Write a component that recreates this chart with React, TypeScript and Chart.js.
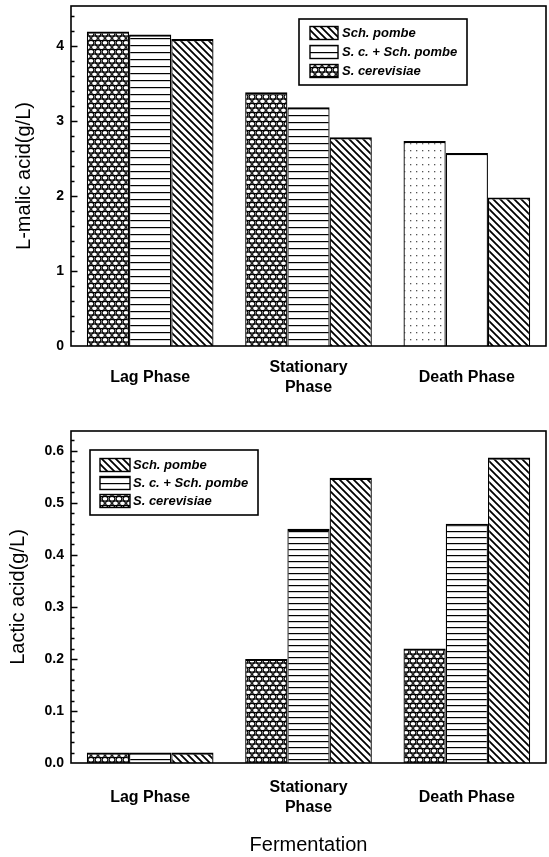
import React, { useEffect, useRef } from 'react';
import { Chart, registerables } from 'chart.js';

Chart.register(...registerables);

// ---------- data ----------
const categories: (string | string[])[] = ['Lag Phase', ['Stationary', 'Phase'], 'Death Phase'];
const seriesNames = ['S. cerevisiae', 'S. c. + Sch. pombe', 'Sch. pombe'];

const malicCerevisiae = [4.19, 3.38, 2.73];
const malicMixed = [4.15, 3.18, 2.57];
const malicPombe = [4.09, 2.78, 1.98];

const lacticCerevisiae = [0.02, 0.2, 0.22];
const lacticMixed = [0.02, 0.45, 0.46];
const lacticPombe = [0.02, 0.548, 0.587];

const malicMax = 4.53;
const malicStep = 1;
const malicMinorStep = 0.2;
const lacticMax = 0.638;
const lacticStep = 0.1;
const lacticMinorStep = 0.02;

const FONT = '"Liberation Sans", Arial, Helvetica, sans-serif';

// ---------- patterns ----------
function tile(ctx: CanvasRenderingContext2D, w: number, h: number, draw: (g: CanvasRenderingContext2D) => void) {
  const c = document.createElement('canvas');
  c.width = w;
  c.height = h;
  const g = c.getContext('2d')!;
  g.fillStyle = '#fff';
  g.fillRect(0, 0, w, h);
  g.strokeStyle = '#000';
  g.fillStyle = '#000';
  draw(g);
  return ctx.createPattern(c, 'repeat')!;
}

function makePatterns(ctx: CanvasRenderingContext2D, lineGap: number) {
  const circles = tile(ctx, 7, 9, (g) => {
    g.lineWidth = 1.1;
    const pts = [[3.5, 2.25], [0, 6.75], [7, 6.75], [3.5, 11.25], [0, -2.25], [7, -2.25]];
    pts.forEach(([x, y]) => {
      g.beginPath();
      g.ellipse(x, y, 2.9, 2.4, 0, 0, Math.PI * 2);
      g.stroke();
    });
  });
  const hlines = tile(ctx, 4, lineGap, (g) => {
    g.fillRect(0, Math.floor(lineGap / 2), 4, 1.2);
  });
  const diag = tile(ctx, 7, 7, (g) => {
    g.lineWidth = 1.8;
    g.beginPath();
    g.moveTo(-1, -1); g.lineTo(8, 8);
    g.moveTo(-1, 6); g.lineTo(1, 8);
    g.moveTo(6, -1); g.lineTo(8, 1);
    g.stroke();
  });
  const sparse = tile(ctx, 6, 7, (g) => {
    g.fillStyle = '#555';
    g.fillRect(2, 3, 1.3, 1.3);
  });
  return { circles, hlines, diag, sparse };
}

// ---------- plugins ----------
const framePlugin = {
  id: 'frameTicks',
  afterDatasetsDraw(chart: any, _args: any, opts: any) {
    const { ctx, chartArea } = chart;
    const y = chart.scales.y;
    ctx.save();
    ctx.strokeStyle = '#000';
    ctx.lineWidth = 1.6;
    ctx.strokeRect(chartArea.left, chartArea.top, chartArea.right - chartArea.left, chartArea.bottom - chartArea.top);
    ctx.lineWidth = 1.3;
    ctx.beginPath();
    const minor = opts.minorStep;
    const n = Math.floor((y.max - y.min) / minor + 1e-6);
    for (let i = 1; i <= n; i++) {
      const v = y.min + i * minor;
      const p = Math.round(y.getPixelForValue(v)) + 0.5;
      const isMajor = Math.abs(v / opts.majorStep - Math.round(v / opts.majorStep)) < 1e-6;
      const len = isMajor ? 6.5 : 3.5;
      ctx.moveTo(chartArea.left, p);
      ctx.lineTo(chartArea.left + len, p);
    }
    ctx.stroke();
    ctx.restore();
  },
};

const boxLegendPlugin = {
  id: 'boxLegend',
  afterDraw(chart: any, _args: any, o: any) {
    const { ctx } = chart;
    ctx.save();
    ctx.fillStyle = '#fff';
    ctx.fillRect(o.x, o.y, o.w, o.h);
    ctx.strokeStyle = '#000';
    ctx.lineWidth = 1.6;
    ctx.strokeRect(o.x, o.y, o.w, o.h);
    const ds = chart.data.datasets.slice().reverse();
    ds.forEach((d: any, i: number) => {
      const cy = o.y + o.firstRow + i * o.rowH;
      const bg = Array.isArray(d.backgroundColor) ? d.backgroundColor[0] : d.backgroundColor;
      ctx.fillStyle = bg;
      ctx.fillRect(o.swatchX, cy - o.swatchH / 2, o.swatchW, o.swatchH);
      ctx.lineWidth = 1.4;
      ctx.strokeRect(o.swatchX, cy - o.swatchH / 2, o.swatchW, o.swatchH);
      ctx.fillStyle = '#000';
      ctx.font = `italic bold 13px ${FONT}`;
      ctx.textBaseline = 'middle';
      ctx.textAlign = 'left';
      ctx.fillText(d.label, o.textX, cy);
    });
    ctx.restore();
  },
};

// ---------- chart builder ----------
function buildChart(canvas: HTMLCanvasElement, cfg: any) {
  const ctx = canvas.getContext('2d')!;
  const p = makePatterns(ctx, cfg.lineGap);
  const bgs = cfg.bgs(p);
  const values = cfg.values;
  const datasets = seriesNames.map((name, i) => ({
    label: name,
    data: values[i],
    backgroundColor: bgs[i],
    borderColor: '#000',
    borderWidth: { top: 2.2, left: 1.3, right: 1.3, bottom: 0 },
    barPercentage: 1.0,
    categoryPercentage: 0.8,
  }));
  return new Chart(canvas, {
    type: 'bar',
    data: { labels: categories as any, datasets },
    plugins: [framePlugin, boxLegendPlugin],
    options: {
      animation: false,
      responsive: false,
      maintainAspectRatio: false,
      layout: { padding: { left: cfg.padLeft, right: 3, top: cfg.padTop, bottom: 0 } },
      plugins: {
        legend: { display: false },
        tooltip: { enabled: false },
        frameTicks: { minorStep: cfg.minorStep, majorStep: cfg.step },
        boxLegend: cfg.legend,
      } as any,
      scales: {
        x: {
          grid: { display: false, drawTicks: false },
          border: { display: false },
          ticks: {
            color: '#000',
            font: { family: FONT, size: 16, weight: 'bold' },
            padding: cfg.xPad,
            maxRotation: 0,
            autoSkip: false,
            crossAlign: 'center',
          },
          title: cfg.xTitle
            ? {
                display: true,
                text: cfg.xTitle,
                color: '#000',
                font: { family: FONT, size: 20 },
                padding: { top: 0, bottom: 0 },
              }
            : { display: false },
          afterFit: (s: any) => {
            s.height = cfg.xHeight;
            s.paddingLeft = 0;
            s.paddingRight = 0;
          },
        },
        y: {
          min: 0,
          max: cfg.max,
          grid: { display: false, drawTicks: false },
          border: { display: false },
          ticks: {
            stepSize: cfg.step,
            includeBounds: false,
            color: '#000',
            padding: 7,
            font: { family: FONT, size: 14, weight: 'bold' },
            callback: (v: any) => cfg.fmt(Number(v)),
          },
          title: {
            display: true,
            text: cfg.yTitle,
            color: '#000',
            font: { family: FONT, size: 20 },
            padding: { top: cfg.yTitlePad, bottom: 0 },
          },
          afterFit: (s: any) => {
            s.width = 71 - cfg.padLeft;
            s.paddingTop = 0;
            s.paddingBottom = 0;
          },
        },
      },
    } as any,
  });
}

export default function App() {
  const topRef = useRef<HTMLCanvasElement>(null);
  const botRef = useRef<HTMLCanvasElement>(null);

  useEffect(() => {
    const top = buildChart(topRef.current!, {
      lineGap: 7,
      values: [malicCerevisiae, malicMixed, malicPombe],
      bgs: (p: any) => [
        [p.circles, p.circles, p.sparse],
        [p.hlines, p.hlines, '#ffffff'],
        p.diag,
      ],
      padLeft: 10,
      padTop: 6,
      max: malicMax,
      step: malicStep,
      minorStep: malicMinorStep,
      fmt: (v: number) => v.toFixed(0),
      yTitle: 'L-malic acid(g/L)',
      yTitlePad: 2,
      xPad: 22,
      xHeight: 74,
      xTitle: null,
      legend: { x: 299, y: 19, w: 168, h: 66, firstRow: 14, rowH: 19, swatchX: 310, swatchW: 28, swatchH: 13, textX: 342 },
    });
    const bot = buildChart(botRef.current!, {
      lineGap: 6,
      values: [lacticCerevisiae, lacticMixed, lacticPombe],
      bgs: (p: any) => [p.circles, p.hlines, p.diag],
      padLeft: 6,
      padTop: 11,
      max: lacticMax,
      step: lacticStep,
      minorStep: lacticMinorStep,
      fmt: (v: number) => v.toFixed(1),
      yTitle: 'Lactic acid(g/L)',
      yTitlePad: 0,
      xPad: 25,
      xHeight: 94,
      xTitle: 'Fermentation',
      legend: { x: 90, y: 30, w: 168, h: 65, firstRow: 15, rowH: 18, swatchX: 100, swatchW: 30, swatchH: 13, textX: 133 },
    });
    return () => {
      top.destroy();
      bot.destroy();
    };
  }, []);

  return (
    <div style={{ position: 'fixed', left: 0, top: 0, width: 549, height: 857, background: '#fff' }}>
      <canvas ref={topRef} width={549} height={420} style={{ position: 'absolute', left: 0, top: 0, width: 549, height: 420 }} />
      <canvas ref={botRef} width={549} height={437} style={{ position: 'absolute', left: 0, top: 420, width: 549, height: 437 }} />
    </div>
  );
}
